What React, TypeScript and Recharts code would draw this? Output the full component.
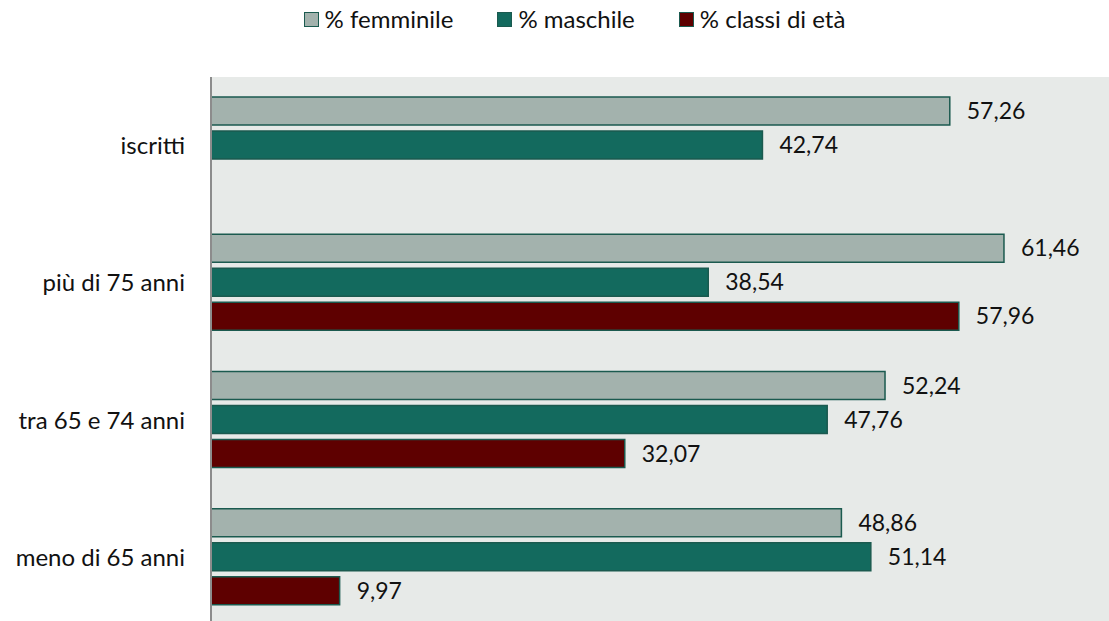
import { BarChart, Bar, XAxis, YAxis, CartesianGrid, Legend, LabelList } from "recharts";

const categories = ["iscritti", "più di 75 anni", "tra 65 e 74 anni", "meno di 65 anni"];
const femminile = [57.26, 61.46, 52.24, 48.86];
const maschile = [42.74, 38.54, 47.76, 51.14];
const classiEta: (number | null)[] = [null, 57.96, 32.07, 9.97];

const series = [
  { key: "femminile", name: "% femminile", color: "#a3b2ad" },
  { key: "maschile", name: "% maschile", color: "#136a5e" },
  { key: "classi", name: "% classi di età", color: "#5e0000" },
];

const data = categories.map((c, i) => ({
  name: c,
  femminile: femminile[i],
  maschile: maschile[i],
  classi: classiEta[i],
}));

const FONT = "Lato, 'Open Sans', sans-serif";
const BORDER = "#1b5a4f";

const fmt = (v: any) => (v == null ? "" : Number(v).toFixed(2).replace(".", ","));

function LegendBox() {
  return (
    <div
      style={{
        height: 40,
        display: "flex",
        justifyContent: "center",
        alignItems: "flex-start",
        gap: 44,
        fontFamily: FONT,
        fontSize: 24,
        lineHeight: "30px",
        color: "#111",
        paddingLeft: 40,
        paddingTop: 4,
        boxSizing: "border-box",
      }}
    >
      {series.map((s) => (
        <div key={s.key} style={{ display: "flex", alignItems: "center", gap: 6 }}>
          <span
            style={{
              width: 13,
              height: 13,
              background: s.color,
              border: `1.5px solid ${BORDER}`,
              display: "inline-block",
            }}
          />
          <span>{s.name}</span>
        </div>
      ))}
    </div>
  );
}

export default function App() {
  return (
    <div style={{ position: "fixed", left: 0, top: 0, width: 1109, height: 621, background: "#fff", overflow: "hidden" }}>
      <BarChart
        width={1109}
        height={621}
        data={data}
        layout="vertical"
        margin={{ top: 37, right: 0, bottom: -5, left: 0 }}
        barCategoryGap={20}
        barGap={6}
      >
        <CartesianGrid fill="#e7eae8" horizontal={false} vertical={false} />
        <XAxis type="number" domain={[0, 69.6]} hide />
        <YAxis
          type="category"
          dataKey="name"
          width={211}
          tickLine={false}
          axisLine={{ stroke: "#8c8c8c", strokeWidth: 2 }}
          tickMargin={20}
          tick={{ fontFamily: FONT, fontSize: 24, fill: "#111" }}
        />
        <Legend verticalAlign="top" align="center" wrapperStyle={{ top: 0 }} content={() => <LegendBox />} />
        {series.map((s) => (
          <Bar
            key={s.key}
            dataKey={s.key}
            name={s.name}
            fill={s.color}
            stroke={BORDER}
            strokeWidth={1.5}
            isAnimationActive={false}
          >
            <LabelList
              dataKey={s.key}
              position="right"
              offset={17}
              formatter={fmt}
              style={{ fontFamily: FONT, fontSize: 23, fill: "#111" }}
            />
          </Bar>
        ))}
      </BarChart>
    </div>
  );
}
